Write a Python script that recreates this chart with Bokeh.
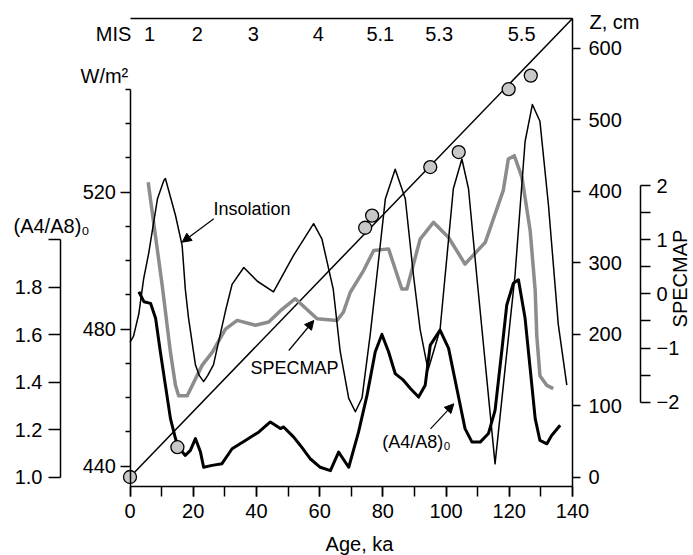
import math
from bokeh.plotting import figure
from bokeh.models import (Range1d, LinearAxis, FixedTicker, SingleIntervalTicker, NumeralTickFormatter,
                          Label, Arrow, NormalHead, ColumnDataSource)
from bokeh.core.properties import value
from bokeh.embed import file_html
from bokeh.resources import INLINE

FONT = "Liberation Sans"

# ---------------- data ----------------
# Insolation (W/m^2) vs age (ka)
ins_age = [0, 1.1, 2.8, 4.3, 5.9, 8.7, 10.7, 11.2, 14.4, 16.5,
           17.5, 18.5, 20.7, 21.9, 23.3, 24.6, 26.4, 30.2, 32.3, 36.0,
           40.3, 45.4, 51.7, 58.1, 60.7, 64.3, 66.5, 69.2, 71.3, 73.4,
           76.0, 78.1, 80.8, 83.9, 87.1, 89.7, 91.8, 94.3, 98.1, 99.7,
           102.3, 105.0, 107.1, 109.7, 111.3, 115.5, 118.7, 121.8, 125.0, 127.3,
           129.7, 132.4, 134.5, 135.5, 138.2]
ins_w = [476.2, 477.9, 484.5, 494.6, 502.1, 518.1, 523.4, 524.0, 513.2, 504.4,
         491.7, 483.4, 469.6, 466.5, 464.7, 466.5, 469.6, 485.3, 493.1, 498.0,
         494.0, 490.9, 501.5, 510.8, 506.4, 491.7, 473.5, 459.8, 455.9, 459.9,
         478.4, 495.6, 518.1, 526.7, 518.1, 495.6, 479.9, 468.1, 479.9, 495.6,
         521.0, 529.7, 521.0, 495.6, 480.5, 440.7, 468.7, 495.6, 534.8, 545.6,
         540.7, 516.2, 492.6, 481.4, 463.7]

# SPECMAP stack
spec_age = [5.75, 10.2, 12.8, 14.4, 15.4, 18.1, 22.8, 26.0, 30.2, 33.9,
            39.7, 43.9, 47.6, 52.3, 59.2, 65.5, 67.5, 69.7, 73.9, 77.1,
            81.8, 86.0, 87.6, 91.8, 96.0, 100.8, 106.0, 112.4, 118.1, 119.7,
            121.6, 124.0, 126.6, 128.2, 128.7, 129.7, 131.9, 133.9]
spec_val = [2.06, 0.15, -1.08, -1.69, -1.88, -1.88, -1.32, -1.08, -0.65, -0.49,
            -0.58, -0.52, -0.31, -0.09, -0.46, -0.49, -0.34, 0.03, 0.43, 0.80,
            0.83, 0.09, 0.09, 1.01, 1.32, 1.04, 0.55, 0.95, 1.91, 2.49,
            2.55, 2.15, 1.17, 0.06, -0.77, -1.51, -1.69, -1.75]

# (A4/A8)0 record
a_age = [2.8, 4.4, 6.5, 8.1, 9.6, 11.2, 12.8, 14.4, 15.3, 17.5,
         19.1, 20.7, 22.3, 23.3, 26.0, 29.1, 32.3, 36.5, 40.7, 44.4,
         47.6, 48.6, 51.8, 53.9, 57.0, 60.2, 63.4, 66.0, 69.2, 72.3,
         75.0, 77.6, 79.7, 81.8, 83.9, 86.5, 88.7, 91.3, 93.4, 95.0,
         98.1, 100.8, 103.4, 106.0, 108.2, 110.8, 113.4, 115.5, 117.6, 119.2,
         121.3, 122.9, 125.0, 126.6, 128.2, 129.7, 131.9, 133.4, 136.1]
a_val = [1.781, 1.739, 1.732, 1.669, 1.528, 1.387, 1.246, 1.162, 1.125, 1.091,
         1.112, 1.162, 1.105, 1.041, 1.049, 1.056, 1.119, 1.154, 1.189, 1.232,
         1.204, 1.211, 1.168, 1.133, 1.077, 1.041, 1.027, 1.105, 1.041, 1.189,
         1.345, 1.528, 1.601, 1.528, 1.436, 1.408, 1.373, 1.337, 1.387, 1.556,
         1.619, 1.542, 1.373, 1.204, 1.147, 1.147, 1.183, 1.281, 1.528, 1.725,
         1.817, 1.831, 1.669, 1.458, 1.246, 1.154, 1.140, 1.175, 1.218]

# Dated depth points and age-depth line (Z, cm)
dz_age = [0, 15.0, 74.4, 76.6, 95.0, 104.0, 119.8, 126.8]
dz_z = [0, 41.7, 349, 366, 434, 455, 543, 562]
model_age = [0, 140]
model_z = [0, 642]

# Marine isotope stages
mis_labels = ["1", "2", "3", "4", "5.1", "5.3", "5.5"]
mis_age = [6.2, 21.3, 39.0, 59.6, 79.2, 97.8, 123.9]

# ---------------- page geometry -> data coordinates ----------------
W_CANVAS, H_CANVAS = 693, 555


def age_at(px):      # horizontal pixel -> age (ka)
    return (px - 129.5) / 3.1607


def w_at(py):        # vertical pixel -> insolation (W/m2)
    return 440 + (465.7 - py) / 3.425


def z_at(py):        # vertical pixel -> depth (cm)
    return (476.5 - py) / 0.7142


def a_at(py):        # vertical pixel -> (A4/A8)0
    return 1 + (476.5 - py) / 237.25


def s_at(py):        # vertical pixel -> SPECMAP
    return (293.35 - py) / 54.175


FR_TOP, FR_BOT = 18, 486

p = figure(width=W_CANVAS, height=H_CANVAS,
           x_range=Range1d(age_at(0), age_at(W_CANVAS)),
           y_range=Range1d(w_at(H_CANVAS), w_at(0)),
           output_backend="svg", toolbar_location=None,
           x_axis_location=None, y_axis_location=None,
           min_border_left=0, min_border_right=0, min_border_top=0, min_border_bottom=0)
p.outline_line_color = None
p.background_fill_color = "white"
p.border_fill_color = "white"
p.xgrid.visible = False
p.ygrid.visible = False
p.extra_y_ranges = {"Z": Range1d(z_at(H_CANVAS), z_at(0)),
                    "A": Range1d(a_at(H_CANVAS), a_at(0)),
                    "S": Range1d(s_at(H_CANVAS), s_at(0))}


def style(ax, tick_out, minor_out, standoff):
    ax.axis_line_color = "black"
    ax.axis_line_width = 1.5
    ax.major_tick_line_color = "black"
    ax.major_tick_line_width = 1.5
    ax.minor_tick_line_color = "black"
    ax.minor_tick_line_width = 1.5
    ax.major_tick_in = 0
    ax.major_tick_out = tick_out
    ax.minor_tick_in = 0
    ax.minor_tick_out = minor_out
    ax.major_label_standoff = standoff
    ax.major_label_text_font = FONT
    ax.major_label_text_font_size = "20px"
    ax.major_label_text_color = "black"


# bottom age axis
xax = LinearAxis(ticker=SingleIntervalTicker(interval=20, num_minor_ticks=2),
                 fixed_location=w_at(FR_BOT), bounds=(0, 140))
style(xax, 10, 10, 7)
p.add_layout(xax, "below")

# top border line
top = LinearAxis(ticker=FixedTicker(ticks=[]), fixed_location=w_at(FR_TOP), bounds=(0, 140))
style(top, 0, 0, 0)
top.major_tick_line_color = None
top.minor_tick_line_color = None
top.major_label_text_font_size = "0px"
p.add_layout(top, "above")

# insolation axis (W/m2)
wax = LinearAxis(ticker=FixedTicker(ticks=[440, 480, 520],
                                    minor_ticks=[450, 460, 470, 490, 500, 510, 530, 540, 550]),
                 fixed_location=0, bounds=(w_at(FR_BOT), 550))
style(wax, 10, 5, 4)
p.add_layout(wax, "left")

# (A4/A8)0 axis
aax = LinearAxis(y_range_name="A", ticker=FixedTicker(ticks=[1.0, 1.2, 1.4, 1.6, 1.8], minor_ticks=[2.0]),
                 fixed_location=age_at(60), bounds=(1.0, 2.0),
                 formatter=NumeralTickFormatter(format="0.0"))
style(aax, 12, 12, 6)
p.add_layout(aax, "left")

# depth axis
zax = LinearAxis(y_range_name="Z", ticker=FixedTicker(ticks=[0, 100, 200, 300, 400, 500, 600]),
                 fixed_location=140, bounds=(z_at(FR_BOT), z_at(FR_TOP)))
style(zax, 8, 0, 8)
p.add_layout(zax, "right")

# SPECMAP axis
sax = LinearAxis(y_range_name="S", ticker=FixedTicker(ticks=[-2, -1, 0, 1, 2], minor_ticks=[-1.5, -0.5, 0.5, 1.5]),
                 fixed_location=age_at(640), bounds=(-2, 2))
style(sax, 10, 10, 6)
sax.major_label_overrides = {-1: "\u22121", -2: "\u22122"}
p.add_layout(sax, "right")

# ---------------- curves ----------------
p.line(model_age, model_z, y_range_name="Z", line_color="black", line_width=1.5)
p.line(spec_age, spec_val, y_range_name="S", line_color="#8c8c8c", line_width=3.5, line_join="round")
p.line(ins_age, ins_w, line_color="black", line_width=1.5, line_join="round")
p.line(a_age, a_val, y_range_name="A", line_color="black", line_width=3, line_join="round")
p.scatter(dz_age, dz_z, y_range_name="Z", size=13, marker="circle",
          fill_color="#c8c8c8", line_color="black", line_width=1.3)

# MIS labels
mis_src = ColumnDataSource(dict(x=mis_age, y=[w_at(33)] * len(mis_age), t=mis_labels))
p.text(x="x", y="y", text="t", source=mis_src, text_align="center", text_baseline="middle",
       text_font=value(FONT), text_font_size="20px", text_color="black")


def lab(px, py, text, size="20px", align="left", angle=0.0):
    p.add_layout(Label(x=age_at(px), y=w_at(py), text=text, text_font=FONT,
                       text_font_size=size, text_align=align, text_baseline="middle",
                       text_color="black", angle=angle))


lab(113, 33, "MIS", align="center")
lab(80, 75, "W/m\u00b2")
lab(13, 225, "(A4/A8)\u2080")
lab(589, 21, "Z, cm")
lab(359, 543, "Age, ka", align="center")
lab(679, 278, "SPECMAP", align="center", angle=math.pi / 2)

lab(213, 208, "Insolation", size="18px")
lab(250, 367.5, "SPECMAP", size="18px")
lab(381.7, 441.7, "(A4/A8)\u2080", size="18px")


def arrow(px0, py0, px1, py1):
    p.add_layout(Arrow(end=NormalHead(size=9, fill_color="black", line_color="black", line_width=1),
                       x_start=age_at(px0), y_start=w_at(py0), x_end=age_at(px1), y_end=w_at(py1),
                       line_color="black", line_width=1.2))


arrow(213.3, 218.3, 181.7, 241.7)
arrow(288.3, 350, 313.3, 320)
arrow(430, 428.3, 453.3, 403.3)

open("out.html", "w").write(file_html(p, INLINE))
